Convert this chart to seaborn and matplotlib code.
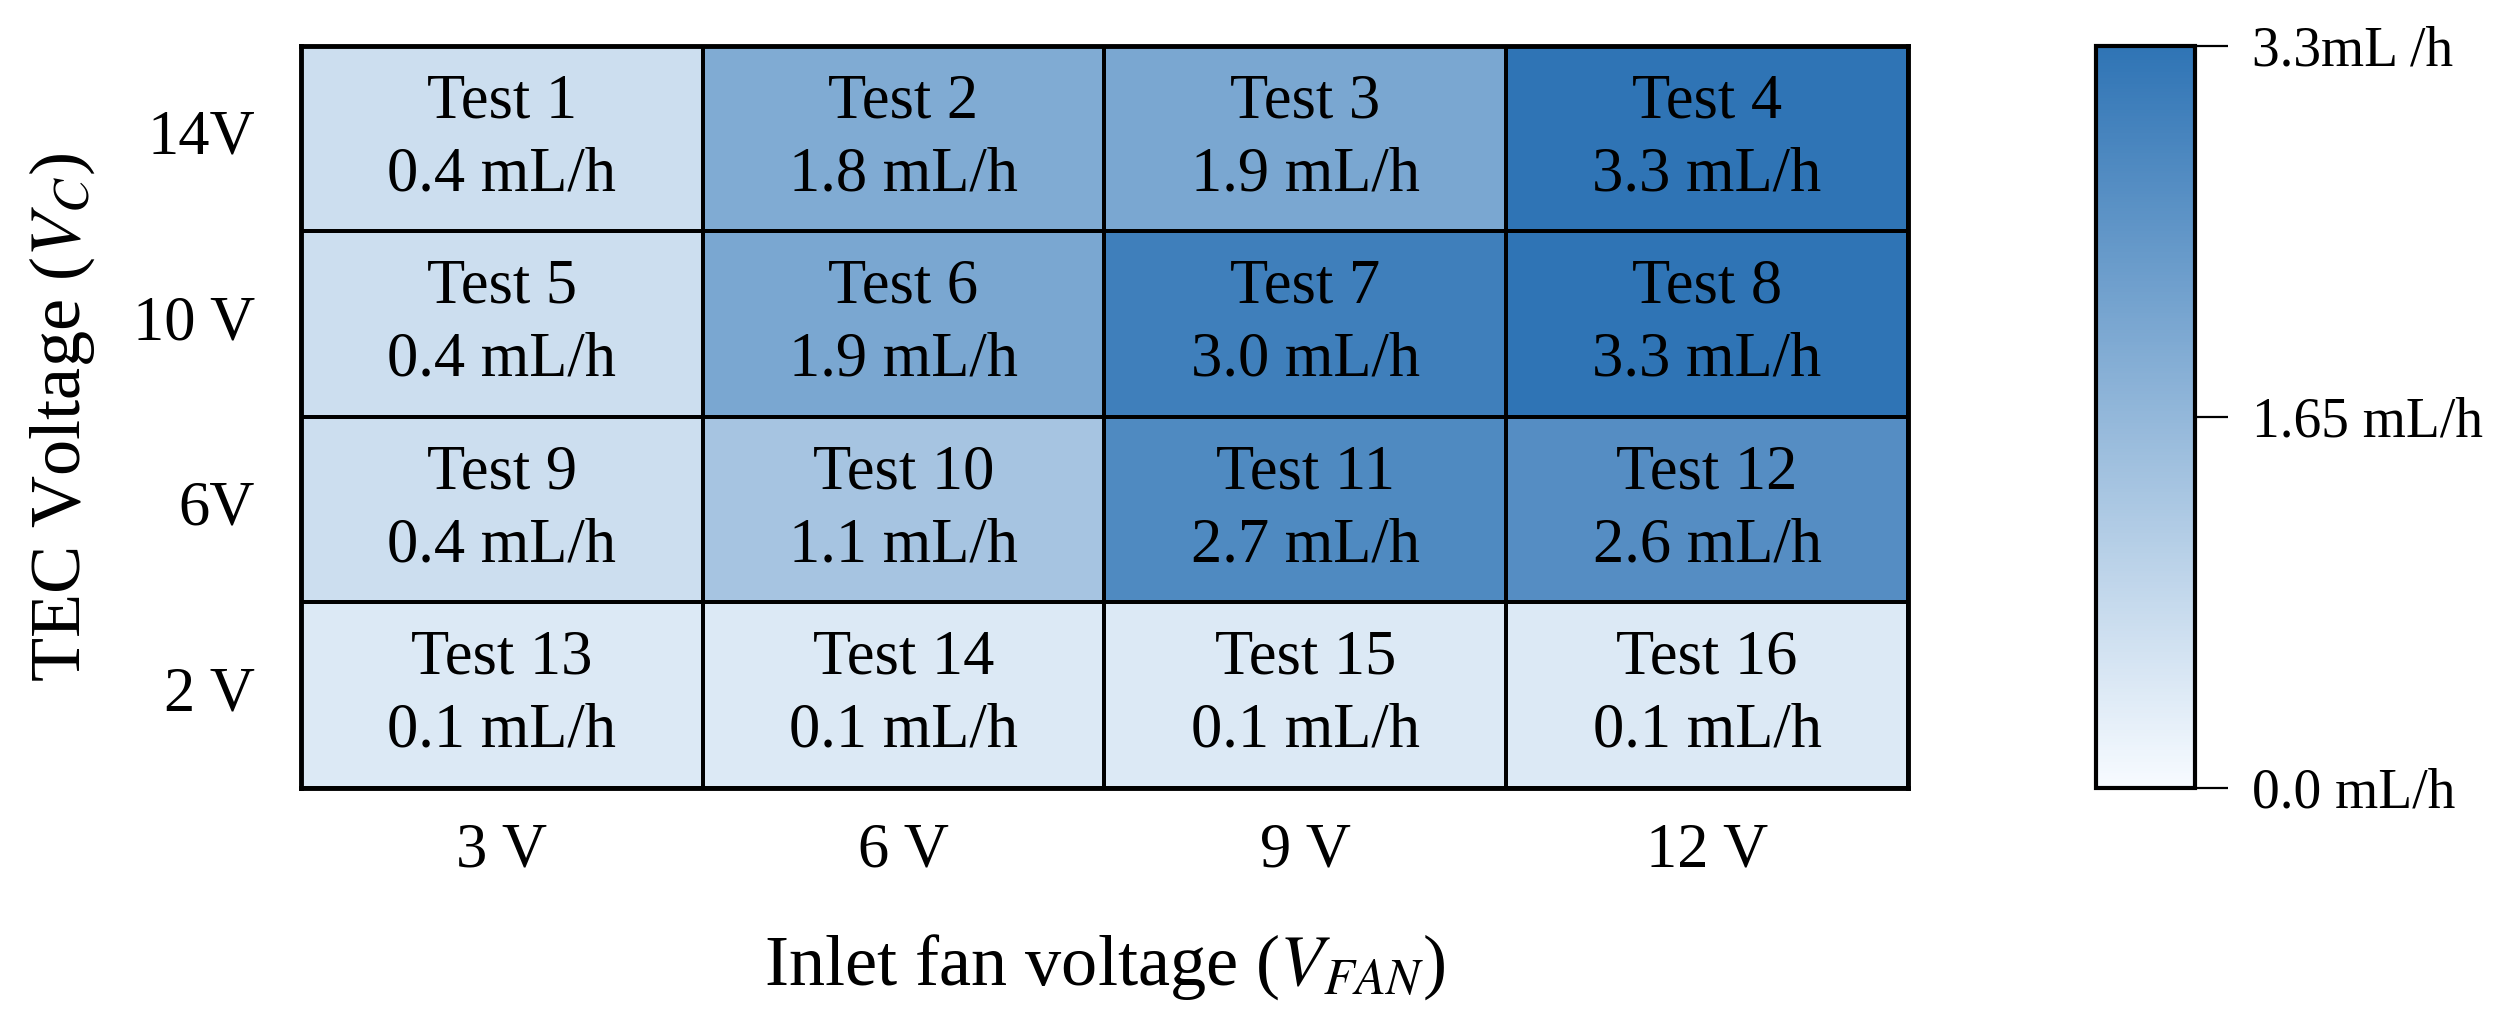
import numpy as np
import pandas as pd
import matplotlib
matplotlib.use("Agg")
import matplotlib.pyplot as plt
import seaborn as sns
from matplotlib.colors import LinearSegmentedColormap, Normalize
from matplotlib.cm import ScalarMappable

# ---- data ----
fan_labels = ["3 V", "6 V", "9 V", "12 V"]
tec_labels = ["14V", "10 V", "6V", "2 V"]
test_ids = [[1, 2, 3, 4],
            [5, 6, 7, 8],
            [9, 10, 11, 12],
            [13, 14, 15, 16]]
rates = [[0.4, 1.8, 1.9, 3.3],
         [0.4, 1.9, 3.0, 3.3],
         [0.4, 1.1, 2.7, 2.6],
         [0.1, 0.1, 0.1, 0.1]]
cbar_ticks = [0.0, 1.65, 3.3]
cbar_ticklabels = ["0.0 mL/h", "1.65 mL/h", "3.3mL /h"]

sns.set_theme(style="white")
plt.rcParams["font.family"] = ["Liberation Serif", "DejaVu Serif"]
plt.rcParams["mathtext.fontset"] = "stix"

df = pd.DataFrame(rates, index=tec_labels, columns=fan_labels)
annot = np.array([[f"Test {t}\n{v:.1f} mL/h" for t, v in zip(trow, vrow)]
                  for trow, vrow in zip(test_ids, rates)])

cmap = LinearSegmentedColormap.from_list("wb", ["#f7fbff", "#2f74b5"])

fig = plt.figure(figsize=(24.95, 10.19), dpi=100)
ax = fig.add_axes([0.1206, 0.2267, 0.6441, 0.7282])
cax = fig.add_axes([0.8401, 0.2267, 0.0397, 0.7282])

sns.heatmap(df, ax=ax, cmap=cmap, vmin=-0.4, vmax=3.3, cbar=False,
            annot=annot, fmt="", linewidths=2.8, linecolor="black",
            annot_kws={"fontsize": 45, "color": "black", "linespacing": 1.35})

for s in ax.spines.values():
    s.set_visible(True)
    s.set_linewidth(3.5)
    s.set_color("black")

ax.tick_params(axis="both", length=0, labelsize=45, colors="black")
ax.tick_params(axis="y", pad=33, rotation=0)
ax.tick_params(axis="x", pad=25)
ax.set_xlabel(r"Inlet fan voltage ($V_{FAN}$)", fontsize=52, labelpad=37, color="black")
ax.set_ylabel(r"TEC Voltage ($V_C$)", fontsize=52, labelpad=26, color="black")

sm = ScalarMappable(norm=Normalize(0, 3.3), cmap=cmap)
cb = fig.colorbar(sm, cax=cax)
cb.outline.set_linewidth(3)
cb.outline.set_edgecolor("black")
cb.set_ticks(cbar_ticks)
cb.set_ticklabels(cbar_ticklabels)
cax.tick_params(axis="y", direction="inout", length=48, width=1.6, pad=17,
                labelsize=40, colors="black")

fig.savefig("out.png", dpi=100)
